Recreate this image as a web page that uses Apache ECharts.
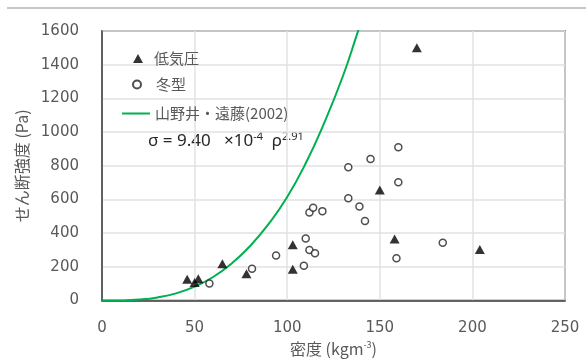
<!DOCTYPE html>
<html>
<head>
<meta charset="utf-8">
<script src="https://cdn.jsdelivr.net/npm/echarts@6/dist/echarts.min.js"></script>
<style>
  html, body { margin: 0; padding: 0; background: #fff; }
  #chart { width: 586px; height: 362px; }
</style>
</head>
<body>
<div id="chart"></div>
<script>
// 低気圧 (triangles)
const lowDensity  = [46, 50, 52, 65, 78, 103, 103, 150, 158, 170, 204];
const lowStrength = [127, 107, 130, 219, 160, 332, 186, 656, 365, 1500, 303];

// 冬型 (open circles)
const winterDensity  = [58, 81, 94, 109, 110, 112, 115, 112, 114, 119, 133, 133, 139, 142, 145, 160, 160, 159, 184];
const winterStrength = [101, 189, 268, 207, 369, 301, 281, 523, 551, 531, 791, 608, 559, 473, 840, 910, 703, 252, 344];

// 山野井・遠藤(2002) curve
const curveDensity  = [0, 10, 20, 30, 40, 50, 60, 70, 80, 90, 100, 110, 120, 130, 138, 142];
const curveStrength = [0, 1, 6, 19, 43, 83, 140, 220, 324, 455, 615, 815, 1055, 1330, 1590, 1720];

const xTicks = { min: 0, max: 250, interval: 50 };
const yTicks = { min: 0, max: 1600, interval: 200 };

const zip = (a, b) => a.map((v, i) => [v, b[i]]);

const chart = echarts.init(document.getElementById('chart'));
const gray = '#595959';
const numFont = 'DejaVu Sans';
const jpFont = 'Noto Sans CJK JP';
const legendText = { color: gray, fontSize: 15, fontFamily: jpFont };

chart.setOption({
  animation: false,
  grid: {
    left: 102, right: 21, top: 31, bottom: 58,
    show: true, borderColor: '#404040', borderWidth: 1.5
  },
  // one legend per entry so each icon keeps its own size
  legend: [
    {
      left: 133, top: 51, padding: 0, itemWidth: 10, itemHeight: 9,
      textStyle: Object.assign({ padding: [0, 0, 0, 6] }, legendText),
      data: ['低気圧']
    },
    {
      left: 132, top: 77, padding: 0, itemWidth: 8, itemHeight: 8,
      textStyle: Object.assign({ padding: [0, 0, 0, 10] }, legendText),
      data: ['冬型']
    },
    {
      left: 122, top: 106, padding: 0, itemWidth: 28, itemHeight: 2,
      textStyle: legendText,
      data: [{ name: '山野井・遠藤(2002)', icon: 'rect' }]
    }
  ],
  xAxis: {
    type: 'value',
    min: xTicks.min, max: xTicks.max, interval: xTicks.interval,
    name: '{t|密度 (kgm}{s|-3}{t|)}',
    nameLocation: 'middle', nameGap: 33,
    nameTextStyle: {
      rich: {
        t: { color: gray, fontSize: 16, fontFamily: jpFont },
        s: { color: gray, fontSize: 9, fontFamily: jpFont, verticalAlign: 'top', padding: [0, 0, 8, 0] }
      }
    },
    axisLine: { lineStyle: { color: '#404040', width: 1.5 } },
    axisTick: { show: false },
    axisLabel: { color: gray, fontSize: 15, fontFamily: numFont, margin: 20 },
    splitLine: { lineStyle: { color: '#e2e2e2', width: 1.5 } }
  },
  yAxis: {
    type: 'value',
    min: yTicks.min, max: yTicks.max, interval: yTicks.interval,
    name: 'せん断強度 (Pa)',
    nameLocation: 'middle', nameGap: 58,
    nameTextStyle: { color: gray, fontSize: 16, fontFamily: jpFont },
    axisLine: { show: true, lineStyle: { color: '#404040', width: 1.5 } },
    axisTick: { show: false },
    axisLabel: {
      color: gray, fontSize: 15, fontFamily: numFont, margin: 23,
      formatter: (v) => String(v)
    },
    splitLine: { lineStyle: { color: '#e2e2e2', width: 1.5 } }
  },
  graphic: [
    {
      type: 'line', silent: true,
      shape: { x1: 7, y1: 8, x2: 586, y2: 8 },
      style: { stroke: '#c8c8c8', lineWidth: 2 }
    },
    {
      type: 'text', left: 148, top: 131, silent: true,
      style: {
        text: '{a|σ = 9.40   ×10}{s|-4}{a|  ρ}{s|2.91}',
        rich: {
          a: { fill: '#262626', fontSize: 17, fontFamily: 'Noto Sans' },
          s: { fill: '#262626', fontSize: 11, fontFamily: 'Noto Sans', verticalAlign: 'top', padding: [0, 0, 9, 0] }
        }
      }
    }
  ],
  series: [
    {
      name: '低気圧',
      type: 'scatter',
      symbol: 'triangle',
      symbolSize: [10, 9],
      itemStyle: { color: '#000' },
      data: zip(lowDensity, lowStrength),
      z: 3
    },
    {
      name: '冬型',
      type: 'scatter',
      symbol: 'circle',
      symbolSize: 7,
      itemStyle: { color: '#fff', borderColor: '#222', borderWidth: 1.5 },
      data: zip(winterDensity, winterStrength),
      z: 3
    },
    {
      name: '山野井・遠藤(2002)',
      type: 'line',
      symbol: 'none',
      smooth: true,
      lineStyle: { color: '#00b050', width: 2 },
      itemStyle: { color: '#00b050' },
      data: zip(curveDensity, curveStrength),
      z: 2
    }
  ]
});
</script>
</body>
</html>
